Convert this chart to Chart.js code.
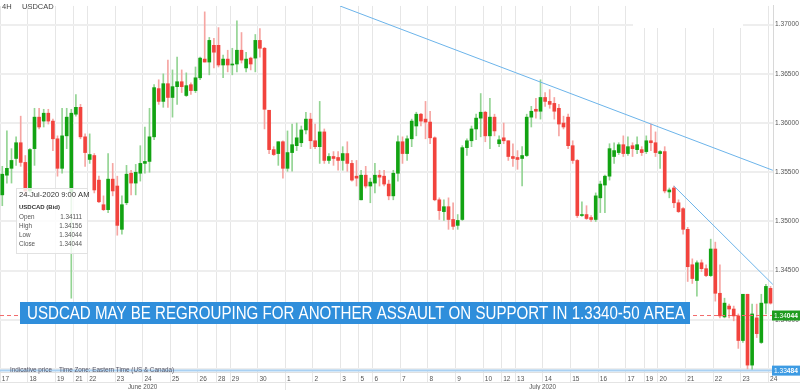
<!DOCTYPE html>
<html>
<head>
<meta charset="utf-8">
<title>USDCAD 4H</title>
<script src="https://cdn.jsdelivr.net/npm/chart.js@4.4.1/dist/chart.umd.min.js"></script>
<style>
  html, body { margin: 0; padding: 0; background: #fff; }
  #wrap { width: 800px; height: 390px; }
</style>
</head>
<body>
<div id="wrap"><canvas id="chart" width="800" height="390"></canvas></div>
<script>
/*****************************************
 * 1. DATA (4H candles, 17 Jun - 24 Jul 2020)
 *****************************************/
// first candle index of each trading day + its label
const dayLabels = ['17','18','19','21','22','23','24','25','26','28','29','30','1','2','3','5','6','7','8','9','10','12','13','14','15','16','17','19','20','21','22','23','24'];
const dayStart  = [0,6,12,16,19,25,31,37,43,47,50,56,62,68,74,78,81,87,93,99,105,109,112,118,124,130,136,140,143,149,155,161,167];

const monthNames = ['June 2020', 'July 2020'];
const monthStart = [0, 62];

const priceTicks = [1.335, 1.340, 1.345, 1.350, 1.355, 1.360, 1.365, 1.370];

const openP = [
  1.3527,1.3547,1.3554,1.3564,1.3580,1.3560,1.3531,1.3574,1.3606,1.3602,
  1.3610,1.3602,1.3584,1.3554,1.3587,1.3530,1.3609,1.3616,1.3586,1.3563,
  1.3567,1.3542,1.3517,1.3512,1.3543,1.3536,1.3492,1.3519,1.3549,1.3539,
  1.3549,1.3559,1.3561,1.3586,1.3635,1.3622,1.3640,1.3626,1.3637,1.3642,
  1.3628,1.3639,1.3633,1.3646,1.3665,1.3662,1.3679,1.3679,1.3659,1.3665,
  1.3659,1.3660,1.3674,1.3656,1.3666,1.3666,1.3684,1.3676,1.3613,1.3573,
  1.3569,1.3581,1.3554,1.3570,1.3577,1.3580,1.3593,1.3604,1.3582,1.3576,
  1.3591,1.3562,1.3566,1.3565,1.3562,1.3569,1.3559,1.3546,1.3522,1.3547,
  1.3536,1.3539,1.3547,1.3546,1.3538,1.3526,1.3549,1.3581,1.3569,1.3584,
  1.3597,1.3609,1.3604,1.3601,1.3585,1.3522,1.3510,1.3515,1.3502,1.3496,
  1.3502,1.3575,1.3582,1.3594,1.3605,1.3611,1.3587,1.3606,1.3579,1.3585,
  1.3582,1.3566,1.3565,1.3564,1.3567,1.3606,1.3614,1.3612,1.3626,1.3622,
  1.3620,1.3615,1.3600,1.3606,1.3577,1.3562,1.3506,1.3507,1.3504,1.3502,
  1.3524,1.3537,1.3546,1.3566,1.3570,1.3578,1.3569,1.3577,1.3573,1.3573,
  1.3571,1.3582,1.3580,1.3569,1.3571,1.3530,1.3534,1.3519,1.3513,1.3492,
  1.3456,1.3440,1.3458,1.3452,1.3445,1.3472,1.3427,1.3403,1.3414,1.3411,
  1.3404,1.3379,1.3426,1.3354,1.3402,1.3377,1.3417,1.3432,1.3417,1.34111
];
const highP = [
  1.3556,1.3592,1.3574,1.3586,1.3607,1.3567,1.3574,1.3615,1.3615,1.3614,
  1.3614,1.3604,1.3587,1.3615,1.3615,1.3614,1.3629,1.3619,1.3589,1.3589,
  1.3569,1.3546,1.3526,1.3569,1.3559,1.3546,1.3526,1.3557,1.3552,1.3558,
  1.3577,1.3596,1.3615,1.3639,1.3644,1.3650,1.3664,1.3654,1.3667,1.3654,
  1.3651,1.3641,1.3657,1.3667,1.3713,1.3687,1.3686,1.3697,1.3669,1.3674,
  1.3676,1.3704,1.3692,1.3672,1.3667,1.3690,1.3696,1.3677,1.3613,1.3576,
  1.3581,1.3582,1.3592,1.3599,1.3600,1.3597,1.3611,1.3610,1.3599,1.3622,
  1.3594,1.3569,1.3571,1.3571,1.3576,1.3581,1.3562,1.3562,1.3552,1.3556,
  1.3544,1.3559,1.3552,1.3552,1.3542,1.3552,1.3587,1.3586,1.3587,1.3604,
  1.3611,1.3610,1.3622,1.3612,1.3586,1.3524,1.3522,1.3524,1.3519,1.3507,
  1.3577,1.3584,1.3597,1.3609,1.3630,1.3612,1.3625,1.3609,1.3587,1.3600,
  1.3582,1.3579,1.3572,1.3576,1.3609,1.3617,1.3625,1.3644,1.3631,1.3634,
  1.3626,1.3619,1.3607,1.3609,1.3582,1.3563,1.3520,1.3516,1.3506,1.3529,
  1.3541,1.3547,1.3579,1.3580,1.3580,1.3587,1.3586,1.3580,1.3586,1.3576,
  1.3587,1.3599,1.3591,1.3572,1.3576,1.3534,1.3536,1.3522,1.3514,1.3494,
  1.3462,1.3460,1.3461,1.3456,1.3482,1.3479,1.3456,1.3422,1.3416,1.3414,
  1.3406,1.3426,1.3426,1.3416,1.3416,1.3426,1.3436,1.3434,1.3421,1.34156
];
const lowP = [
  1.3516,1.3539,1.3539,1.3557,1.3556,1.3527,1.3529,1.3557,1.3594,1.3596,
  1.3599,1.3572,1.3546,1.3549,1.3574,1.3422,1.3607,1.3584,1.3556,1.3559,
  1.3529,1.3519,1.3511,1.3509,1.3526,1.3486,1.3487,1.3517,1.3527,1.3527,
  1.3541,1.3549,1.3550,1.3583,1.3619,1.3616,1.3616,1.3606,1.3619,1.3631,
  1.3627,1.3629,1.3631,1.3644,1.3662,1.3649,1.3656,1.3657,1.3646,1.3652,
  1.3649,1.3652,1.3661,1.3652,1.3654,1.3652,1.3667,1.3594,1.3569,1.3567,
  1.3557,1.3544,1.3551,1.3551,1.3572,1.3576,1.3589,1.3574,1.3574,1.3559,
  1.3559,1.3559,1.3557,1.3552,1.3552,1.3551,1.3541,1.3536,1.3522,1.3534,
  1.3519,1.3529,1.3536,1.3536,1.3522,1.3522,1.3541,1.3559,1.3562,1.3576,
  1.3587,1.3597,1.3584,1.3579,1.3521,1.3502,1.3501,1.3492,1.3492,1.3492,
  1.3501,1.3567,1.3576,1.3583,1.3586,1.3581,1.3574,1.3587,1.3576,1.3579,
  1.3562,1.3556,1.3553,1.3536,1.3566,1.3596,1.3605,1.3604,1.3617,1.3615,
  1.3604,1.3587,1.3594,1.3574,1.3559,1.3504,1.3505,1.3502,1.3500,1.3500,
  1.3509,1.3509,1.3542,1.3559,1.3568,1.3566,1.3567,1.3566,1.3569,1.3567,
  1.3569,1.3572,1.3566,1.3554,1.3529,1.3524,1.3514,1.3509,1.3487,1.3439,
  1.3437,1.3424,1.3449,1.3444,1.3444,1.3419,1.3402,1.3402,1.3402,1.3399,
  1.3371,1.3377,1.3350,1.33484,1.3382,1.3376,1.3406,1.3416,1.3405,1.34044
];
const closeP = [
  1.3548,1.3554,1.3562,1.3580,1.3560,1.3531,1.3573,1.3606,1.3596,1.3610,
  1.3602,1.3584,1.3554,1.3587,1.3606,1.3610,1.3616,1.3586,1.3570,1.3568,
  1.3532,1.3520,1.3512,1.3543,1.3531,1.3496,1.3517,1.3548,1.3539,1.3550,
  1.3559,1.3561,1.3586,1.3636,1.3622,1.3640,1.3626,1.3637,1.3642,1.3637,
  1.3638,1.3633,1.3646,1.3666,1.3662,1.3684,1.3672,1.3659,1.3665,1.3659,
  1.3660,1.3674,1.3664,1.3665,1.3660,1.3684,1.3676,1.3614,1.3573,1.3568,
  1.3581,1.3554,1.3570,1.3578,1.3585,1.3593,1.3604,1.3582,1.3576,1.3591,
  1.3562,1.3566,1.3564,1.3562,1.3569,1.3559,1.3542,1.3544,1.3547,1.3536,
  1.3540,1.3547,1.3545,1.3538,1.3526,1.3549,1.3581,1.3569,1.3584,1.3602,
  1.3609,1.3602,1.3601,1.3585,1.3522,1.3511,1.3515,1.3502,1.3495,1.3501,
  1.3575,1.3582,1.3594,1.3605,1.3611,1.3587,1.3606,1.3592,1.3583,1.3582,
  1.3566,1.3564,1.3563,1.3567,1.3606,1.3612,1.3612,1.3626,1.3622,1.3619,
  1.3612,1.3599,1.3596,1.3577,1.3562,1.3506,1.3507,1.3503,1.3502,1.3526,
  1.3538,1.3546,1.3574,1.3572,1.3578,1.3569,1.3576,1.3574,1.3578,1.3570,
  1.3582,1.3580,1.3570,1.3571,1.3531,1.3532,1.3519,1.3510,1.3492,1.3454,
  1.3442,1.3458,1.3452,1.3445,1.3472,1.3427,1.3404,1.3417,1.3411,1.3404,
  1.3379,1.3426,1.3354,1.3406,1.3386,1.3417,1.3434,1.3417,1.34111,1.34044
];

// trend lines (candle index, price)
const upperTrendIdx = [73.4, 167.5];
const upperTrendPrice = [1.3719, 1.3552];
const lowerTrendIdx = [146, 167.5];
const lowerTrendPrice = [1.3536, 1.3436];

const lastTime = '24-Jul-2020 9:00 AM';
const bannerText = 'USDCAD MAY BE REGROUPING FOR ANOTHER ASSAULT ON SUPPORT IN 1.3340-50 AREA';

/*****************************************
 * 2. HELPERS
 *****************************************/
const last = closeP.length - 1;
const lastClose = closeP[last];
const periodLow = Math.min(...lowP);
const X_MIN = -0.5, X_MAX = 167.54;

const UP = '#12a312', DOWN = '#f2433d';
const UP_WICK = '#93d493', DOWN_WICK = '#f6a5a2';
const FONT = '"Liberation Sans", Arial, sans-serif';

const idx = openP.map((_, i) => i);
const isUp = i => closeP[i] >= openP[i];

/*****************************************
 * 3. OVERLAYS (header, tooltip, banner, tags)
 *****************************************/
const overlay = {
  id: 'overlay',
  beforeDatasetsDraw(chart) {
    const c = chart.ctx;
    c.save();
    c.fillStyle = '#fff';
    c.fillRect(633, 0, 110, 28);
    c.restore();
  },
  afterDraw(chart) {
    const c = chart.ctx;
    const xs = chart.scales.x, ys = chart.scales.y;
    c.save();

    // header
    c.fillStyle = '#444';
    c.font = '7.5px ' + FONT;
    c.textBaseline = 'middle';
    c.fillText('4H', 2, 7);
    c.fillText('USDCAD', 22, 7);

    // info box for the last candle
    c.fillStyle = 'rgba(255,255,255,0.82)';
    c.fillRect(16, 188, 71, 65);
    c.strokeStyle = '#e2e2e2';
    c.lineWidth = 1;
    c.strokeRect(16.5, 188.5, 71, 65);
    c.fillStyle = '#333';
    c.font = '7.6px ' + FONT;
    c.fillText(lastTime, 19, 195);
    c.font = 'bold 6px ' + FONT;
    c.fillText('USDCAD (Bid)', 19, 207);
    const rows = [['Open', openP[last]], ['High', highP[last]], ['Low', lowP[last]], ['Close', closeP[last]]];
    c.font = '6.3px ' + FONT;
    rows.forEach((r, k) => {
      const y = 217 + k * 9;
      c.fillStyle = '#555';
      c.textAlign = 'left';
      c.fillText(r[0], 19, y);
      c.textAlign = 'right';
      c.fillText(r[1].toFixed(5), 82, y);
    });
    c.textAlign = 'left';

    // banner
    c.fillStyle = '#2f8edb';
    c.fillRect(20, 302, 670, 22);
    c.font = '17.5px ' + FONT;
    const bw = c.measureText(bannerText).width;
    c.save();
    c.translate(27, 314);
    c.scale(658 / bw, 1);
    c.fillStyle = '#fff';
    c.fillText(bannerText, 0, 0);
    c.restore();

    // footnote
    c.fillStyle = '#556';
    c.font = '6.3px ' + FONT;
    c.fillText('Indicative price', 10, 370);
    c.fillText('Time Zone: Eastern Time (US & Canada)', 59, 370);

    // month row
    const split = xs.getPixelForValue(monthStart[1] - 0.5);
    c.strokeStyle = '#e4e4e4';
    c.beginPath();
    c.moveTo(0, 382.5); c.lineTo(chart.width, 382.5);
    c.moveTo(Math.round(split) + 0.5, 382); c.lineTo(Math.round(split) + 0.5, 390);
    c.stroke();
    c.fillStyle = '#555';
    c.textAlign = 'center';
    c.fillText(monthNames[0], (xs.left + split) / 2, 387);
    c.fillText(monthNames[1], (split + chart.width) / 2, 387);
    c.textAlign = 'left';

    // price tags
    const tag = (price, color, a, b) => {
      const y = ys.getPixelForValue(price);
      c.fillStyle = color;
      c.fillRect(772, y - 5, 28, 10);
      c.fillStyle = '#fff';
      c.font = '6.6px ' + FONT;
      c.fillText(a, 774, y + 0.5);
      const w = c.measureText(a).width;
      c.font = 'bold 6.6px ' + FONT;
      c.fillText(b, 774 + w, y + 0.5);
    };
    const lc = lastClose.toFixed(5), pl = periodLow.toFixed(5);
    tag(lastClose, '#1f9c1f', lc.slice(0, 4), lc.slice(4));
    tag(periodLow, '#3d9be3', pl.slice(0, 4), pl.slice(4));

    c.restore();
  }
};

/*****************************************
 * 4. CHART
 *****************************************/
const ctx = document.getElementById('chart').getContext('2d');
const chart = new Chart(ctx, {
  type: 'bar',
  data: {
    datasets: [
      {
        type: 'line', label: 'Upper trend',
        data: upperTrendIdx.map((x, k) => ({ x, y: upperTrendPrice[k] })),
        borderColor: '#6cb4ea', borderWidth: 1, pointRadius: 0, order: -2
      },
      {
        type: 'line', label: 'Lower trend',
        data: lowerTrendIdx.map((x, k) => ({ x, y: lowerTrendPrice[k] })),
        borderColor: '#6cb4ea', borderWidth: 1, pointRadius: 0, order: -2
      },
      {
        type: 'line', label: 'Last',
        data: [{ x: X_MIN, y: lastClose }, { x: X_MAX, y: lastClose }],
        borderColor: '#f26a6a', borderWidth: 1, borderDash: [4, 3], pointRadius: 0, order: -1
      },
      {
        type: 'line', label: 'Low',
        data: [{ x: X_MIN, y: periodLow }, { x: X_MAX, y: periodLow }],
        borderColor: '#a9d1f3', borderWidth: 2, pointRadius: 0, order: -1
      },
      {
        label: 'Body',
        data: idx.map(i => ({ x: i, y: [openP[i], closeP[i]] })),
        backgroundColor: idx.map(i => isUp(i) ? UP : DOWN),
        barThickness: 3, minBarLength: 1, grouped: false, order: 0
      },
      {
        label: 'Wick',
        data: idx.map(i => ({ x: i, y: [lowP[i], highP[i]] })),
        backgroundColor: idx.map(i => isUp(i) ? UP_WICK : DOWN_WICK),
        barThickness: 1, grouped: false, order: 1
      }
    ]
  },
  options: {
    responsive: false,
    animation: false,
    devicePixelRatio: 1,
    layout: { padding: 0 },
    plugins: { legend: { display: false }, tooltip: { enabled: false } },
    scales: {
      x: {
        type: 'linear', min: X_MIN, max: X_MAX, offset: false,
        afterBuildTicks: s => { s.ticks = dayStart.map(v => ({ value: v - 0.5 })); },
        afterFit: s => { s.height = 18; },
        grid: { color: '#e6e6e6', lineWidth: 1, offset: false, tickLength: 10 },
        border: { display: true, color: '#e0e0e0' },
        ticks: {
          autoSkip: false, maxRotation: 0, minRotation: 0, align: 'start', padding: -7,
          color: '#555', font: { size: 6.5, family: FONT },
          callback: (v, k) => ' ' + dayLabels[k]
        }
      },
      y: {
        position: 'right', min: 1.3347, max: 1.3719,
        afterBuildTicks: s => { s.ticks = priceTicks.map(v => ({ value: v })); },
        afterFit: s => { s.width = 27; },
        grid: { color: '#eeeeee', lineWidth: 2, drawTicks: false },
        border: { display: true, color: '#d8d8d8' },
        ticks: {
          padding: 2, color: '#555', font: { size: 6.6, family: FONT },
          callback: v => v.toFixed(5)
        }
      }
    }
  },
  plugins: [overlay]
});
</script>
</body>
</html>
